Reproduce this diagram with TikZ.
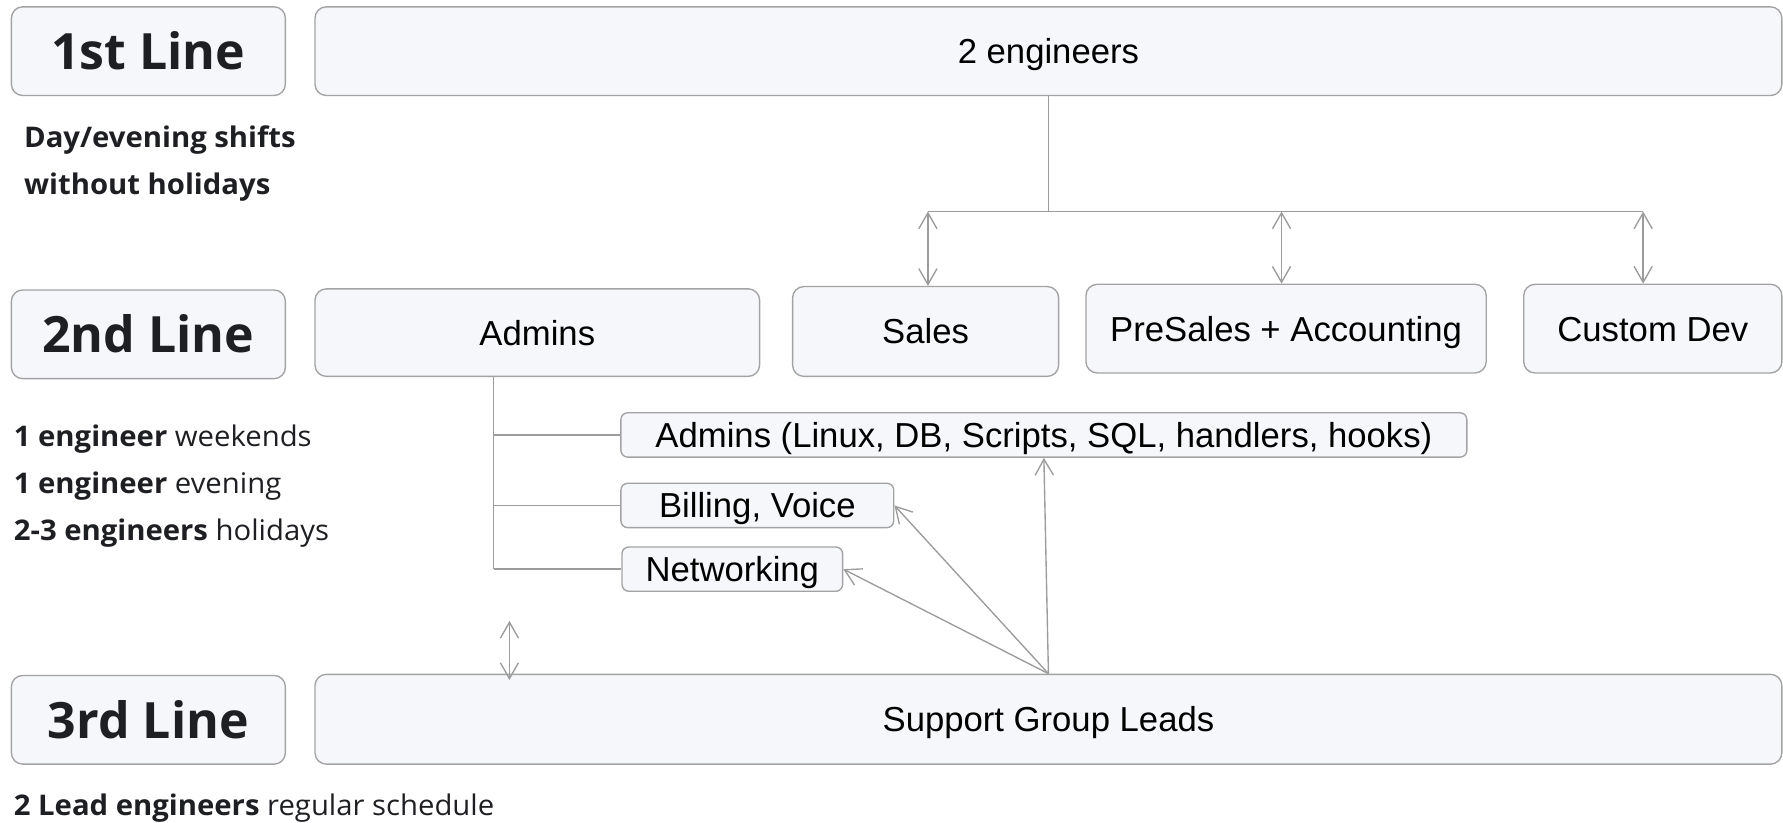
\documentclass[tikz,border=0pt]{standalone}
\usepackage{fontspec}
\setmainfont{Liberation Sans}
\newfontfamily\tierfont{Open Sans}
\newfontfamily\labfont{Open Sans}[FakeStretch=1.03]
\usetikzlibrary{arrows.meta}
\definecolor{boxfill}{HTML}{F5F7FA}
\definecolor{boxline}{HTML}{A3A3A3}
\definecolor{wirecol}{HTML}{9C9C9C}
\definecolor{ink}{HTML}{1E1F22}

\begin{document}
\begin{tikzpicture}[x=1pt,y=-1pt,
  >={Straight Barb[length=14pt,width=16pt]},
  box/.style={draw=boxline, fill=boxfill, line width=1.2pt, rounded corners=10pt,
    inner sep=0pt, text height=22pt, text depth=0pt,
    font=\fontsize{30.5}{34}\selectfont, text=black},
  smallbox/.style={box, rounded corners=6pt, minimum height=39pt},
  tier/.style={box, font=\tierfont\bfseries\fontsize{44}{50}\selectfont, text=ink,
    text height=32pt, minimum width=241pt, minimum height=78pt},
  note/.style={anchor=base west, inner sep=0pt, text=ink,
    font=\labfont\fontsize{25}{28}\selectfont},
  wire/.style={draw=wirecol, line width=1.2pt},
]
\path[use as bounding box] (0,0) rectangle (1568,723);

% tier labels
\node[tier] (l1) at (130.5,45) {1st Line};
\node[tier] (l2) at (130.5,294) {2nd Line};
\node[tier] (l3) at (130.5,633) {3rd Line};

% staffing notes
\node[note, font=\labfont\bfseries\fontsize{25}{28}\selectfont] (n1a) at (21,130) {Day/evening shifts};
\node[note, font=\labfont\bfseries\fontsize{25}{28}\selectfont] (n1b) at (21,171) {without holidays};
\node[note] (n2a) at (12,393) {\textbf{1 engineer} weekends};
\node[note] (n2b) at (12,434) {\textbf{1 engineer} evening};
\node[note] (n2c) at (12,475) {\textbf{2-3 engineers} holidays};
\node[note] (n3) at (12,717) {\textbf{2 Lead engineers} regular schedule};

% first line
\node[box, minimum width=1290pt, minimum height=78pt] (eng) at (922,45) {2 engineers};

% second line
\node[box, minimum width=391pt, minimum height=77pt] (adm) at (472.5,292.5) {Admins};
\node[box, minimum width=234pt, minimum height=79pt] (sales) at (814,291.5) {Sales};
\node[box, minimum width=352pt, minimum height=78pt] (pre) at (1131,289) {PreSales + Accounting};
\node[box, minimum width=227pt, minimum height=78pt] (dev) at (1453.5,289) {Custom Dev};

% admin groups
\node[smallbox, minimum width=744pt] (adl) at (918,382.5) {Admins (Linux, DB, Scripts, SQL, handlers, hooks)};
\node[smallbox, minimum width=240pt] (bill) at (666,444.5) {Billing, Voice};
\node[smallbox, minimum width=194pt] (net) at (644,500.5) {Networking};

% third line
\node[box, minimum width=1290pt, minimum height=79pt] (sg) at (922,632.5) {Support Group Leads};

% first line to second line departments
\coordinate (hub) at (922,186);
\coordinate (bs) at (816,186);
\coordinate (bp) at (1127,186);
\coordinate (bd) at (1445,186);
\draw[wire] (eng.south) -- (hub);
\draw[wire] (bs) -- (bd);
\draw[wire,<->] (bs) -- (bs |- sales.north);
\draw[wire,<->] (bp) -- (bp |- pre.north);
\draw[wire,<->] (bd) -- (bd |- dev.north);

% admins tree
\coordinate (trunk) at (434,0);
\draw[wire] (trunk |- adm.south) -- (trunk |- net.west);
\draw[wire] (trunk |- adl.west) -- (adl.west);
\draw[wire] (trunk |- bill.west) -- (bill.west);
\draw[wire] (trunk |- net.west) -- (net.west);

% leads to admin groups
\draw[wire,->] (sg.north) -- (adl.south);
\draw[wire,->] (sg.north) -- (bill.east);
\draw[wire,->] (sg.north) -- (net.east);

% escalation between second and third line
\coordinate (esup) at (448,546);
\coordinate (esdn) at (448,598);
\draw[wire,<->] (esup) -- (esdn);
\end{tikzpicture}
\end{document}
